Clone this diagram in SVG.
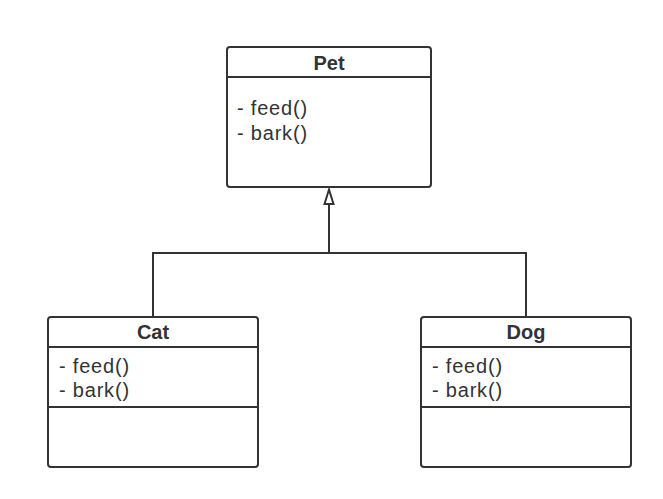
<svg xmlns="http://www.w3.org/2000/svg" width="663" height="499" viewBox="0 0 663 499">
<style>
.box{fill:#fff;stroke:#333;stroke-width:2}
.ln{stroke:#333;stroke-width:2;fill:none}
.t{font-family:"Liberation Sans",Arial,sans-serif;font-size:20px;letter-spacing:0.8px;fill:#333}
.h{font-family:"Liberation Sans",Arial,sans-serif;font-size:20px;font-weight:bold;fill:#333;text-anchor:middle}
</style>
<rect width="663" height="499" fill="#fff"/>
<g id="connectors">
<path class="ln" d="M153 317 V253 H526 V317"/>
<path class="ln" d="M329 253 V204"/>
<path d="M329 189.5 L333.5 204 H324.5 Z" fill="#fff" stroke="#333" stroke-width="2" stroke-linejoin="miter"/>
</g>
<g id="Pet">
<rect class="box" x="227" y="47" width="204" height="140" rx="3"/>
<line class="ln" x1="227" y1="77" x2="431" y2="77"/>
<text class="h" x="329" y="69.5">Pet</text>
<text class="t" x="237" y="115">- feed()</text>
<text class="t" x="237" y="140">- bark()</text>
</g>
<g id="Cat">
<rect class="box" x="48" y="317" width="210" height="150" rx="3"/>
<line class="ln" x1="48" y1="347" x2="258" y2="347"/>
<line class="ln" x1="48" y1="407" x2="258" y2="407"/>
<text class="h" x="153" y="338.5">Cat</text>
<text class="t" x="59" y="372.5">- feed()</text>
<text class="t" x="59" y="396.5">- bark()</text>
</g>
<g id="Dog">
<rect class="box" x="421" y="317" width="210" height="150" rx="3"/>
<line class="ln" x1="421" y1="347" x2="631" y2="347"/>
<line class="ln" x1="421" y1="407" x2="631" y2="407"/>
<text class="h" x="526" y="338.5">Dog</text>
<text class="t" x="432" y="372.5">- feed()</text>
<text class="t" x="432" y="396.5">- bark()</text>
</g>
</svg>
